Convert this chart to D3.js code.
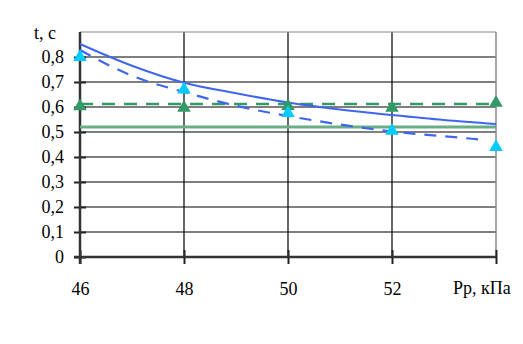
<!DOCTYPE html>
<html>
<head>
<meta charset="utf-8">
<script src="https://cdn.jsdelivr.net/npm/d3@7"></script>
<style>
  body { margin: 0; background: #fff; }
  svg text { font-family: "Times New Roman", "Liberation Serif", Times, serif !important; }
</style>
</head>
<body>
<svg id="chart" width="523" height="344"></svg>
<script>
// pressure, kPa
const pressure = [46, 48, 50, 52, 54]
const xTicks = [46, 48, 50, 52]
const yTicks = [0, 0.1, 0.2, 0.3, 0.4, 0.5, 0.6, 0.7, 0.8]

const curveX      = [46, 47, 48, 49, 50, 51, 52, 53, 54]
const solidCurve  = [0.852, 0.765, 0.697, 0.655, 0.618, 0.590, 0.568, 0.548, 0.532]
const dashedCurveX = [46, 47, 48, 49, 50, 51, 52, 53, 53.8]
const dashedCurve = [0.828, 0.725, 0.660, 0.605, 0.564, 0.530, 0.502, 0.483, 0.468]

// constant levels
const greenDashedLevel = 0.612
const greenSolidLevel  = 0.52

// measured points
const cyanPoints  = [0.80, 0.67, 0.576, 0.505, 0.44]
const greenPoints = [0.603, 0.597, 0.604, 0.597, 0.617]

const svg = d3.select('#chart')
const margin = {left: 80, right: 27, top: 32, bottom: 87}
const W = 523, H = 344
const fontSize = 18
const serif = '"Times New Roman", "Liberation Serif", Times, serif'

const x = d3.scaleLinear().domain([46, 54]).range([margin.left, W - margin.right])
const y = d3.scaleLinear().domain([0, 0.9]).range([H - margin.bottom, margin.top])

const fmt = d => d === 0 ? '0' : d3.format('.1f')(d).replace('.', ',')

// grid
svg.append('g')
    .selectAll('line')
    .data(yTicks.slice(1))
    .join('line')
    .attr('x1', x(46)).attr('x2', x(54))
    .attr('y1', d => y(d)).attr('y2', d => y(d))
    .attr('stroke', '#000').attr('stroke-width', 1.2)

svg.append('g')
    .selectAll('line')
    .data([48, 50, 52])
    .join('line')
    .attr('x1', d => x(d)).attr('x2', d => x(d))
    .attr('y1', y(0)).attr('y2', y(0.9))
    .attr('stroke', '#000').attr('stroke-width', 1.2)

// top and right border (gray)
svg.append('line')
    .attr('x1', x(46)).attr('x2', x(54))
    .attr('y1', y(0.9)).attr('y2', y(0.9))
    .attr('stroke', '#888').attr('stroke-width', 1.2)
svg.append('line')
    .attr('x1', x(54)).attr('x2', x(54))
    .attr('y1', y(0)).attr('y2', y(0.9))
    .attr('stroke', '#888').attr('stroke-width', 1.5)

// axes
const yAxis = d3.axisLeft(y).tickValues(yTicks).tickFormat(fmt).tickSize(6).tickPadding(10)
const gy = svg.append('g').attr('transform', `translate(${x(46)},0)`).call(yAxis)
gy.attr('font-family', serif)
gy.select('.domain').remove()
gy.selectAll('.tick line').attr('x1', -6).attr('x2', 6).attr('stroke', '#222').attr('stroke-width', 2)
gy.selectAll('.tick text').attr('font-size', fontSize).attr('fill', '#000')

const xAxis = d3.axisBottom(x).tickValues(pressure).tickFormat(d => xTicks.includes(d) ? d : '').tickSize(7).tickPadding(18)
const gx = svg.append('g').attr('transform', `translate(0,${y(0)})`).call(xAxis)
gx.attr('font-family', serif)
gx.select('.domain').remove()
gx.selectAll('.tick line').attr('y1', -7).attr('y2', 7).attr('stroke', '#222').attr('stroke-width', 2)
gx.selectAll('.tick text').attr('font-size', fontSize).attr('fill', '#000')

svg.append('line')
    .attr('x1', x(46)).attr('x2', x(46))
    .attr('y1', y(0) + 7).attr('y2', y(0.9))
    .attr('stroke', '#333').attr('stroke-width', 2.5)
svg.append('line')
    .attr('x1', x(46) - 6).attr('x2', x(54))
    .attr('y1', y(0)).attr('y2', y(0))
    .attr('stroke', '#333').attr('stroke-width', 2.5)

// constant green levels
svg.append('line')
    .attr('x1', x(46)).attr('x2', x(54))
    .attr('y1', y(greenSolidLevel)).attr('y2', y(greenSolidLevel))
    .attr('stroke', '#6aae86').attr('stroke-width', 3)
svg.append('line')
    .attr('x1', x(46)).attr('x2', x(54))
    .attr('y1', y(greenDashedLevel)).attr('y2', y(greenDashedLevel))
    .attr('stroke', '#339966').attr('stroke-width', 2.5)
    .attr('stroke-dasharray', '13,9')

// blue curves
const line = d3.line().x(d => x(d[0])).y(d => y(d[1])).curve(d3.curveMonotoneX)

svg.append('path')
    .datum(d3.zip(curveX, solidCurve))
    .attr('d', line)
    .attr('fill', 'none').attr('stroke', '#3f66ee').attr('stroke-width', 2)

svg.append('path')
    .datum(d3.zip(dashedCurveX, dashedCurve))
    .attr('d', line)
    .attr('fill', 'none').attr('stroke', '#3f66ee').attr('stroke-width', 2.2)
    .attr('stroke-dasharray', '12,9')

// markers
const tri = d3.symbol().type(d3.symbolTriangle).size(80)

svg.append('g')
    .selectAll('path')
    .data(d3.zip(pressure, greenPoints))
    .join('path')
    .attr('d', tri)
    .attr('transform', d => `translate(${x(d[0])},${y(d[1])})`)
    .attr('fill', '#339966')

svg.append('g')
    .selectAll('path')
    .data(d3.zip(pressure, cyanPoints))
    .join('path')
    .attr('d', tri)
    .attr('transform', d => `translate(${x(d[0])},${y(d[1])})`)
    .attr('fill', '#00ccff')

// axis titles
svg.append('text')
    .attr('x', 34).attr('y', 39)
    .attr('font-family', serif)
    .attr('font-size', fontSize)
    .text('t, c')

svg.append('text')
    .attr('x', 453).attr('y', 294)
    .attr('font-family', serif)
    .attr('font-size', fontSize)
    .text('Pp, кПа')
</script>
</body>
</html>
